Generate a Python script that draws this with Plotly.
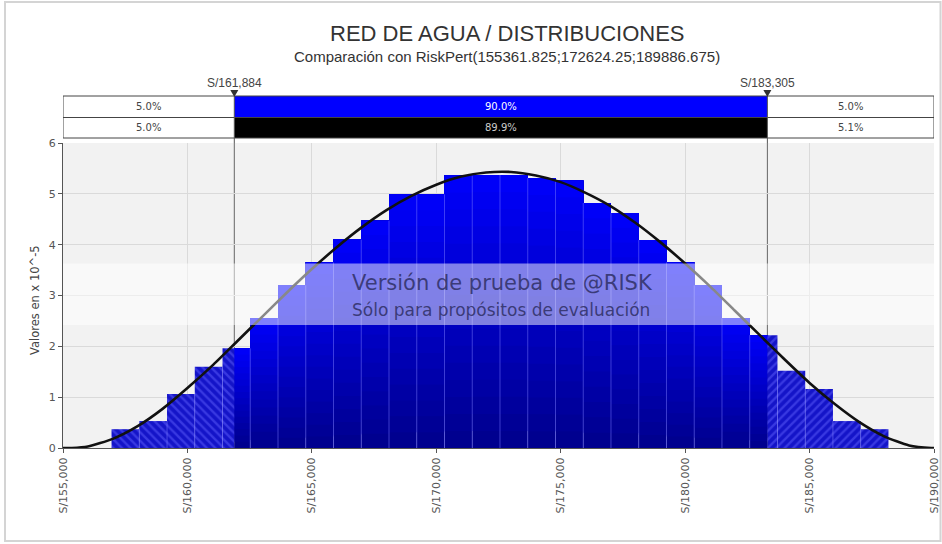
import plotly.graph_objects as go

# ---------------- data ----------------
bin_start = 156950
bin_width = 1115
bar_heights = [0.37, 0.53, 1.06, 1.60, 1.96, 2.55, 3.20, 3.65, 4.10, 4.47,
               4.99, 4.99, 5.36, 5.37, 5.37, 5.31, 5.26, 4.82, 4.62, 4.09,
               3.65, 3.20, 2.55, 2.22, 1.52, 1.16, 0.53, 0.37]

curve_x = [155000, 155360, 156000, 157000, 158000, 159000, 160000, 161000, 162000,
           163000, 164000, 165000, 166000, 167000, 168000, 169000, 170000, 171000,
           172000, 173000, 174000, 175000, 176000, 177000, 178000, 179000, 180000,
           181000, 182000, 183000, 184000, 185000, 186000, 187000, 188000, 189000,
           189890, 190000]
curve_y = [0, 0, 0.03, 0.18, 0.43, 0.77, 1.18, 1.62, 2.10,
           2.58, 3.06, 3.52, 3.95, 4.34, 4.68, 4.96, 5.18, 5.34,
           5.42, 5.43, 5.36, 5.23, 5.02, 4.76, 4.43, 4.05, 3.63,
           3.18, 2.70, 2.22, 1.74, 1.28, 0.87, 0.51, 0.23, 0.05,
           0, 0]

x_ticks = [155000, 160000, 165000, 170000, 175000, 180000, 185000, 190000]
x_tick_labels = ["S/155,000", "S/160,000", "S/165,000", "S/170,000",
                 "S/175,000", "S/180,000", "S/185,000", "S/190,000"]
y_ticks = [0, 1, 2, 3, 4, 5, 6]

cut_low = 161884
cut_high = 183305
cut_labels = ["S/161,884", "S/183,305"]
band_row1 = ["5.0%", "90.0%", "5.0%"]
band_row2 = ["5.0%", "89.9%", "5.1%"]

title_text = "RED DE AGUA / DISTRIBUCIONES"
subtitle_text = "Comparación con RiskPert(155361.825;172624.25;189886.675)"
ytitle_text = "Valores en x 10^-5"
wm_line1 = "Versión de prueba de @RISK"
wm_line2 = "Sólo para propósitos de evaluación"

x_min, x_max = 155000, 190000

# ---------------- figure ----------------
fig = go.Figure()

# split bins into solid (inside cuts) and hatched (outside) parts
solid, hatch_l, hatch_r = [], [], []
for i, h in enumerate(bar_heights):
    a = bin_start + i * bin_width
    b = a + bin_width
    lo, hi = max(a, cut_low), min(b, cut_high)
    if hi > lo:
        solid.append(((lo + hi) / 2, hi - lo, h))
    hi2 = min(b, cut_low)
    if hi2 > a:
        hatch_l.append(((a + hi2) / 2, hi2 - a, h))
    lo3 = max(a, cut_high)
    if b > lo3:
        hatch_r.append(((lo3 + b) / 2, b - lo3, h))

# gradient-filled solid bars: each layer runs from its base to the bar top
N = 16
for k in range(N):
    f = (k + 0.5) / N
    bl = int(140 + (252 - 140) * f)
    fig.add_trace(go.Bar(
        x=[s[0] for s in solid], width=[s[1] for s in solid],
        y=[s[2] * (N - k) / N for s in solid], base=[s[2] * k / N for s in solid],
        marker=dict(color=f"rgb(0,0,{bl})", line=dict(width=0)),
        hoverinfo="skip", showlegend=False))

for parts, shape in ((hatch_l, "\\"), (hatch_r, "/")):
    fig.add_trace(go.Bar(
        x=[s[0] for s in parts], width=[s[1] for s in parts],
        y=[s[2] for s in parts],
        marker=dict(color="#1414c8", line=dict(width=0),
                    pattern=dict(shape=shape, fgcolor="#5c5cfa", bgcolor="#1414c8",
                                 size=6, solidity=0.4)),
        hoverinfo="skip", showlegend=False))

# thin light separators between bins
sx, sy = [], []
for i in range(len(bar_heights) - 1):
    e = bin_start + (i + 1) * bin_width
    sx += [e, e, None]
    sy += [0, min(bar_heights[i], bar_heights[i + 1]), None]
fig.add_trace(go.Scatter(x=sx, y=sy, mode="lines",
                         line=dict(color="rgba(120,120,255,0.5)", width=1),
                         hoverinfo="skip", showlegend=False))

# theoretical curve
fig.add_trace(go.Scatter(x=curve_x, y=curve_y, mode="lines",
                         line=dict(color="#111111", width=2.6, shape="spline", smoothing=0.6),
                         hoverinfo="skip", showlegend=False))

W, H = 942, 544
ml, mr, mt, mb = 63, 8, 143, 96
pw, ph = W - ml - mr, H - mt - mb


def py(p):
    return (H - mb - p) / ph


def px(p):
    return (p - ml) / pw


shapes = []
# cut lines inside plot (below bars)
for c in (cut_low, cut_high):
    shapes.append(dict(type="line", xref="x", yref="y", x0=c, x1=c, y0=0, y1=6,
                       line=dict(color="#666666", width=1), layer="below"))
# top band
b_top, b_mid, b_bot = py(96), py(117.5), py(138)
shapes.append(dict(type="rect", xref="x", yref="paper", x0=x_min, x1=x_max, y0=b_bot, y1=b_top,
                   fillcolor="white", line=dict(width=0), layer="above"))
shapes.append(dict(type="rect", xref="x", yref="paper", x0=cut_low, x1=cut_high, y0=b_mid, y1=b_top,
                   fillcolor="#0000ff", line=dict(width=0), layer="above"))
shapes.append(dict(type="rect", xref="x", yref="paper", x0=cut_low, x1=cut_high, y0=b_bot, y1=b_mid,
                   fillcolor="#000000", line=dict(width=0), layer="above"))
shapes.append(dict(type="rect", xref="x", yref="paper", x0=x_min, x1=x_max, y0=b_bot, y1=b_top,
                   fillcolor="rgba(0,0,0,0)", line=dict(color="#444444", width=1), layer="above"))
shapes.append(dict(type="line", xref="x", yref="paper", x0=x_min, x1=x_max, y0=b_mid, y1=b_mid,
                   line=dict(color="#444444", width=1), layer="above"))
for c in (cut_low, cut_high):
    shapes.append(dict(type="line", xref="x", yref="paper", x0=c, x1=c, y0=1.0, y1=b_top,
                       line=dict(color="#555555", width=1), layer="above"))
    # marker triangle at the top of the band
    shapes.append(dict(type="path", xref="x", yref="paper", xsizemode="pixel", ysizemode="pixel",
                       xanchor=c, yanchor=b_top, path="M -4,6 L 4,6 L 0,-1 Z",
                       fillcolor="#333333", line=dict(width=0), layer="above"))
# watermark band
shapes.append(dict(type="rect", xref="paper", yref="y", x0=0, x1=1, y0=2.42, y1=3.63,
                   fillcolor="rgba(255,255,255,0.5)", line=dict(width=0), layer="above"))
# outer frame
shapes.append(dict(type="rect", xref="paper", yref="paper", x0=px(5), x1=px(940.5), y0=py(541), y1=py(2),
                   fillcolor="rgba(0,0,0,0)", line=dict(color="#d4d4d4", width=2), layer="below"))

ann = []
txt_font = "DejaVu Sans, Verdana, sans-serif"


def add_text(text, x, y, size, color, family=txt_font, xref="paper", angle=0):
    ann.append(dict(text=text, xref=xref, yref="paper", x=x, y=y, showarrow=False,
                    xanchor="center", yanchor="middle", textangle=angle,
                    font=dict(family=family, size=size, color=color)))


add_text(title_text, px(507), py(33), 22, "#333333", "Liberation Sans, Arial")
add_text(subtitle_text, px(507), py(56), 15, "#333333", "Liberation Sans, Arial")
for c, lab in zip((cut_low, cut_high), cut_labels):
    add_text(lab, c, py(83), 12, "#444444", "Liberation Sans, Arial", xref="x")
cell_x = [(x_min + cut_low) / 2, (cut_low + cut_high) / 2, (cut_high + x_max) / 2]
row1_col = ["#444444", "#ffffff", "#444444"]
row2_col = ["#444444", "#cccccc", "#444444"]
for cx, t, col in zip(cell_x, band_row1, row1_col):
    add_text(t, cx, (b_top + b_mid) / 2, 10, col, xref="x")
for cx, t, col in zip(cell_x, band_row2, row2_col):
    add_text(t, cx, (b_mid + b_bot) / 2, 10, col, xref="x")
add_text(ytitle_text, px(35), py(300), 11.5, "#444444", angle=-90)
add_text(wm_line1, px(502), py(283), 21, "rgba(40,40,90,0.8)")
add_text(wm_line2, px(501), py(310), 17, "rgba(40,40,90,0.8)")

fig.update_layout(
    width=W, height=H, autosize=False,
    margin=dict(l=ml, r=mr, t=mt, b=mb, pad=0),
    paper_bgcolor="white", plot_bgcolor="#f2f2f2",
    barmode="overlay", showlegend=False,
    shapes=shapes, annotations=ann,
    xaxis=dict(range=[x_min, x_max], tickvals=x_ticks, ticktext=x_tick_labels, tickangle=-90,
               showgrid=True, gridcolor="#dadada", gridwidth=1, zeroline=False,
               showline=True, linecolor="#555555", linewidth=1,
               ticks="outside", ticklen=4, tickcolor="#555555",
               ticklabeloverflow="allow", automargin=False,
               tickfont=dict(family=txt_font, size=11, color="#555555")),
    yaxis=dict(range=[0, 6], tickvals=y_ticks, showgrid=True, gridcolor="#dadada", gridwidth=1,
               zeroline=False, showline=True, linecolor="#555555", linewidth=1,
               ticks="outside", ticklen=4, tickcolor="#555555", automargin=False,
               tickfont=dict(family=txt_font, size=11, color="#555555")),
)

fig.write_html("out.html", config={"displayModeBar": False},
               post_script="document.documentElement.style.overflow='hidden';"
                           "document.body.style.overflow='hidden';"
                           "document.body.style.margin='0';document.body.style.padding='0';")
